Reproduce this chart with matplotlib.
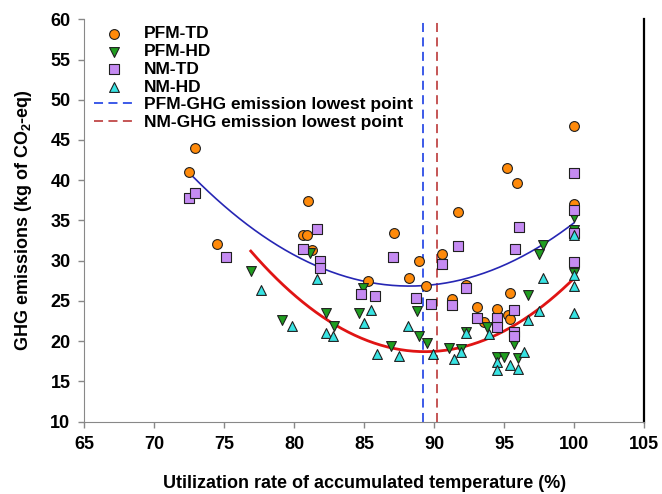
import numpy as np
import matplotlib
matplotlib.use("Agg")
import matplotlib.pyplot as plt

plt.rcParams['font.family'] = ['Liberation Sans', 'DejaVu Sans']
plt.rcParams['font.weight'] = 'bold'
plt.rcParams['mathtext.fontset'] = 'custom'
plt.rcParams['mathtext.bf'] = 'Liberation Sans:bold'
plt.rcParams['mathtext.rm'] = 'Liberation Sans:bold'

# data
pfm_td_x = [72.9, 72.5, 74.5, 81.0, 80.65, 80.9, 81.25, 85.3, 87.1, 88.2, 88.9, 89.4,
            90.55, 91.7, 92.3, 91.3, 93.05, 93.6, 94.5, 95.3, 95.4, 95.4, 95.2, 95.95,
            100, 100]
pfm_td_y = [44.0, 41.0, 32.1, 37.4, 33.2, 33.2, 31.3, 27.5, 33.5, 27.8, 30.0, 26.9,
            30.8, 36.0, 27.0, 25.2, 24.2, 22.4, 24.0, 23.3, 22.8, 26.0, 41.5, 39.7,
            46.8, 37.1]

pfm_hd_x = [76.9, 79.1, 81.1, 82.3, 82.85, 84.6, 84.9, 86.9, 88.8, 88.9, 89.5, 91.05,
            91.9, 92.3, 93.8, 94.5, 95.0, 96.0, 95.7, 96.7, 97.5, 97.75, 100, 100, 100]
pfm_hd_y = [28.7, 22.6, 31.0, 23.5, 21.9, 23.5, 26.6, 19.4, 23.7, 20.7, 19.8, 19.1,
            19.0, 21.1, 21.8, 18.0, 18.0, 17.9, 19.7, 25.7, 30.8, 31.9, 35.4, 33.8, 28.5]

nm_td_x = [72.5, 72.9, 75.1, 81.6, 80.6, 81.85, 81.85, 84.75, 85.8, 87.05, 88.7, 89.8,
           90.55, 91.7, 92.3, 91.3, 93.1, 94.5, 94.5, 95.7, 95.7, 95.7, 96.1, 95.8,
           100, 100, 100, 100]
nm_td_y = [37.8, 38.4, 30.5, 34.0, 31.5, 30.0, 29.1, 25.9, 25.65, 30.4, 25.35, 24.65,
           29.6, 31.8, 26.6, 24.5, 22.85, 22.85, 21.75, 23.9, 21.1, 20.6, 34.2, 31.45,
           40.85, 36.3, 33.5, 29.9]

nm_hd_x = [77.6, 79.85, 81.65, 82.3, 82.8, 85.5, 85.0, 88.1, 85.9, 87.5, 89.95, 91.4,
           91.9, 92.3, 93.9, 94.5, 94.5, 95.4, 96.0, 96.4, 96.7, 97.5, 97.8,
           100, 100, 100, 100]
nm_hd_y = [26.4, 21.95, 27.7, 21.05, 20.65, 23.9, 22.3, 21.95, 18.4, 18.2, 18.35, 17.75,
           18.6, 21.0, 20.95, 17.4, 16.4, 17.0, 16.6, 18.65, 22.6, 23.7, 27.9,
           33.2, 28.2, 26.8, 23.5]

# quadratic fits (curvature, vertex x, vertex y) and x range
pfm_fit = (0.0568, 88.24, 26.85)
pfm_fit_range = (72.8, 100)
nm_fit = (0.0805, 89.36, 18.70)
nm_fit_range = (76.9, 100)

pfm_lowest = 89.2
nm_lowest = 90.2

fig = plt.figure(figsize=(6.62, 4.94), dpi=100)
ax = fig.add_axes([0.1273, 0.1464, 0.8455, 0.8146])

def fit_curve(fit, rng):
    a, h, k = fit
    xs = np.linspace(rng[0], rng[1], 200)
    return xs, a * (xs - h) ** 2 + k

xs, ys = fit_curve(pfm_fit, pfm_fit_range)
ax.plot(xs, ys, color='#2626b4', lw=1.2, zorder=2)
xs, ys = fit_curve(nm_fit, nm_fit_range)
ax.plot(xs, ys, color='#e01414', lw=2.0, zorder=2)

ax.axvline(pfm_lowest, color='#2d4de6', lw=1.3, ls=(0, (5, 3)), zorder=1,
           label='PFM-GHG emission lowest point')
ax.axvline(nm_lowest, color='#c04848', lw=1.3, ls=(0, (5, 3)), zorder=1,
           label='NM-GHG emission lowest point')

mk = dict(s=50, edgecolors='#202020', linewidths=0.8, zorder=3)
ax.scatter(pfm_td_x, pfm_td_y, marker='o', c='#ff8a0a', label='PFM-TD', **mk)
ax.scatter(pfm_hd_x, pfm_hd_y, marker='v', c='#1f9e1f', label='PFM-HD', **mk)
ax.scatter(nm_td_x, nm_td_y, marker='s', c='#c58bf2', label='NM-TD', **mk)
ax.scatter(nm_hd_x, nm_hd_y, marker='^', c='#38e3e3', label='NM-HD', **mk)

ax.set_xlim(65, 105)
ax.set_ylim(10, 60)
ax.set_xticks(np.arange(65, 106, 5))
ax.set_yticks(np.arange(10, 61, 5))
ax.tick_params(direction='out', length=4, width=1, color='#888888',
               labelsize=13, pad=6)
for lab in ax.get_xticklabels() + ax.get_yticklabels():
    lab.set_fontweight('bold')

ax.spines['top'].set_visible(False)
ax.spines['left'].set_color('#888888')
ax.spines['bottom'].set_color('#888888')
ax.spines['right'].set_color('black')
ax.spines['right'].set_linewidth(1.6)

ax.set_xlabel('Utilization rate of accumulated temperature (%)', fontsize=13,
              fontweight='bold', labelpad=16)
ax.set_ylabel(r'GHG emissions (kg of CO$_\mathbf{2}$-eq)', fontsize=13,
              fontweight='bold', labelpad=12)

handles, labels = ax.get_legend_handles_labels()
order = [2, 3, 4, 5, 0, 1]
ax.legend([handles[i] for i in order], [labels[i] for i in order],
          loc='upper left', frameon=False,
          prop={'weight': 'bold', 'size': 12.5},
          handlelength=2.3, handletextpad=0.6, labelspacing=0.15,
          borderaxespad=0.0, bbox_to_anchor=(0.005, 1.0))

fig.savefig('out.png', dpi=100)
